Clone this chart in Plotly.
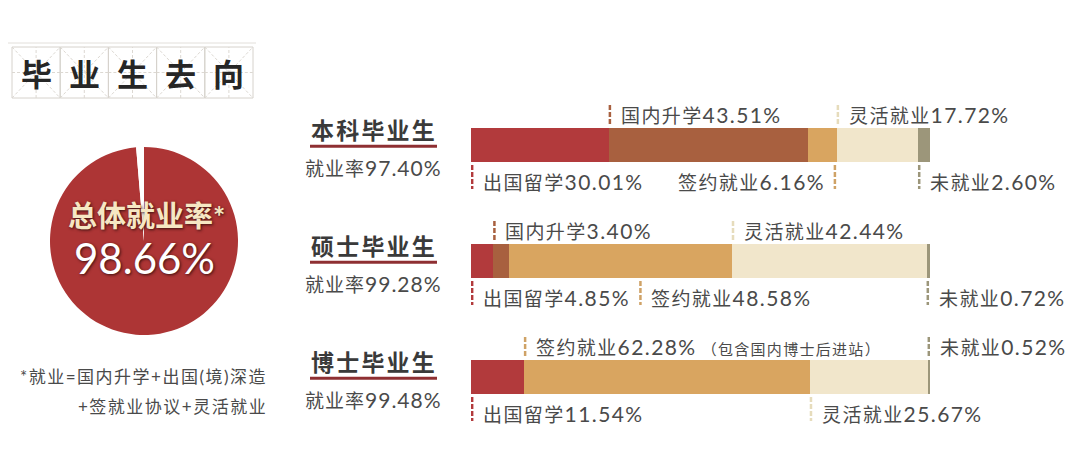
import plotly.graph_objects as go

# ---------------- data ----------------
groups = ["本科毕业生", "硕士毕业生", "博士毕业生"]
group_rates = [97.40, 99.28, 99.48]
rate_label = "就业率"
categories = ["出国留学", "国内升学", "签约就业", "灵活就业", "未就业"]
undergrad = [30.01, 43.51, 6.16, 17.72, 2.60]
master = [4.85, 3.40, 48.58, 42.44, 0.72]
phd = [11.54, 0.0, 62.28, 25.67, 0.52]
overall_rate = 98.66
overall_label = "总体就业率*"
title_chars = ["毕", "业", "生", "去", "向"]
footnote_lines = ["*就业=国内升学+出国(境)深造", "+签就业协议+灵活就业"]
phd_note = "（包含国内博士后进站）"

series = [undergrad, master, phd]

# ---------------- style ----------------
W, H = 1080, 469
colors = ["#b23a3c", "#a8603f", "#d9a560", "#f1e6cb", "#9c967a"]
tick_colors = ["#b23a3c", "#a8603f", "#cfa266", "#e6dcbc", "#9c967a"]
text_color = "#4a4a4a"
font_stack = "Lato, 'Noto Sans CJK SC', sans-serif"
BAR_X0, BAR_X1 = 471, 930
Y_TOP, Y_BOT = 87, 435


def mixed(cjk, num, cjk_size, num_size, spacing):
    return (f"<span style='font-size:{cjk_size}px;letter-spacing:{spacing}px'>{cjk}</span>"
            f"<span style='font-size:{num_size}px;letter-spacing:{spacing}px'>{num}</span>")


# label placement: (category index, side, anchor) ; anchor: 'start', 'end' or fraction of segment
label_layout = [
    [(0, "below", "start"), (1, "above", "start"), (2, "below", "end"),
     (3, "above", "start"), (4, "below", "start")],
    [(0, "below", "start"), (1, "above", "start"), (2, "below", 0.59),
     (3, "above", "start"), (4, "below", "start")],
    [(0, "below", "start"), (2, "above", "start"), (3, "below", "start"),
     (4, "above", "start")],
]

fig = go.Figure()

# stacked bars
for ci, cat in enumerate(categories):
    fig.add_trace(go.Bar(
        y=groups, x=[s[ci] for s in series], name=cat, orientation="h",
        marker=dict(color=colors[ci], line=dict(width=0)), width=0.293,
        hoverinfo="x+name", showlegend=False,
    ))

# pie
fig.add_trace(go.Pie(
    values=[overall_rate, round(100 - overall_rate, 2)],
    marker=dict(colors=["#ad3535", "#ffffff"], line=dict(width=0)),
    sort=False, direction="clockwise", rotation=0, textinfo="none",
    hoverinfo="none", showlegend=False,
    domain=dict(x=[50 / W, 238 / W], y=[1 - 336 / H, 1 - 146 / H]),
))

annotations = []
shapes = []

# segment labels and ticks
for gi, grp in enumerate(groups):
    vals = series[gi]
    starts = [sum(vals[:k]) for k in range(len(vals))]
    for ci, side, anchor in label_layout[gi]:
        s0 = starts[ci]
        s1 = s0 + vals[ci]
        if anchor == "start":
            tx = s0 + 0.25
        elif anchor == "end":
            tx = s1 - 0.4
        else:
            tx = s0 + anchor * vals[ci]
        label = mixed(categories[ci], f"{vals[ci]:.2f}%", 19, 21, 1.4)
        if gi == 2 and ci == 2:
            label += f"<span style='font-size:15px;letter-spacing:1.3px'> {phd_note}</span>"
        if side == "above":
            y0, y1, ys = gi - 0.345, gi - 0.165, 31
        else:
            y0, y1, ys = gi + 0.172, gi + 0.379, -36
        shapes.append(dict(type="line", xref="x", yref="y", x0=tx, x1=tx, y0=y0, y1=y1,
                           line=dict(color=tick_colors[ci], width=2.5, dash="5px,2px")))
        if anchor == "end":
            annotations.append(dict(x=tx, y=grp, xref="x", yref="y", text=label, showarrow=False,
                                    xanchor="right", yanchor="middle", xshift=-8, yshift=ys,
                                    font=dict(size=19, color=text_color)))
        else:
            annotations.append(dict(x=tx, y=grp, xref="x", yref="y", text=label, showarrow=False,
                                    xanchor="left", yanchor="middle", xshift=9, yshift=ys,
                                    font=dict(size=19, color=text_color)))

# left group titles
for gi, grp in enumerate(groups):
    annotations.append(dict(x=374 / W, y=grp, xref="paper", yref="y",
                            text=f"<span style='letter-spacing:2.2px'>{grp}</span>",
                            showarrow=False, xanchor="center", yanchor="middle", yshift=15,
                            font=dict(size=23, color="#3a3a3a", weight="bold")))
    annotations.append(dict(x=374 / W, y=grp, xref="paper", yref="y",
                            text=mixed(rate_label, f"{group_rates[gi]:.2f}%", 19, 21, 1.0),
                            showarrow=False, xanchor="center", yanchor="middle", yshift=-22,
                            font=dict(size=19, color=text_color)))
    shapes.append(dict(type="line", xref="paper", yref="y", x0=310 / W, x1=437 / W,
                       y0=gi + 0.01, y1=gi + 0.01, line=dict(color="#8e2f32", width=3)))

# pie texts
annotations.append(dict(x=146 / W, y=1 - 215 / H, xref="paper", yref="paper", text=overall_label,
                        showarrow=False, xanchor="center", yanchor="middle",
                        font=dict(size=29, color="#f6e7c3", weight="bold",
                                  shadow="1px 1px 3px #3a1010")))
annotations.append(dict(x=144 / W, y=1 - 258 / H, xref="paper", yref="paper",
                        text=f"{overall_rate:.2f}%", showarrow=False, xanchor="center",
                        yanchor="middle",
                        font=dict(size=42, color="#ffffff", shadow="1px 1px 3px #3a1010")))

# footnote
for li, line in enumerate(footnote_lines):
    annotations.append(dict(x=269 / W, y=1 - (376 + li * 30) / H, xref="paper", yref="paper",
                            text=f"<span style='letter-spacing:1.5px'>{line}</span>",
                            showarrow=False, xanchor="right", yanchor="middle",
                            font=dict(size=17, color=text_color)))

# title with grid boxes
BOX_W, BOX_TOP, BOX_BOT, BOX_X0 = 48.2, 47, 98, 12
grid = dict(color="#d6d2cc", width=1)
dash_grid = dict(color="#dcd8d2", width=1, dash="3px,2px")
px = lambda v: v / W
py = lambda v: 1 - v / H
shapes.append(dict(type="line", xref="paper", yref="paper", x0=px(8), x1=px(256),
                   y0=py(43), y1=py(43), line=dict(color="#e2dfda", width=1)))
for i, ch in enumerate(title_chars):
    x0 = BOX_X0 + i * BOX_W
    x1 = x0 + BOX_W
    xm = (x0 + x1) / 2
    ym = (BOX_TOP + BOX_BOT) / 2
    shapes.append(dict(type="rect", xref="paper", yref="paper", x0=px(x0), x1=px(x1),
                       y0=py(BOX_BOT), y1=py(BOX_TOP), line=grid, fillcolor="rgba(0,0,0,0)"))
    shapes.append(dict(type="line", xref="paper", yref="paper", x0=px(xm), x1=px(xm),
                       y0=py(BOX_BOT), y1=py(BOX_TOP), line=dash_grid))
    shapes.append(dict(type="line", xref="paper", yref="paper", x0=px(x0), x1=px(x1),
                       y0=py(ym), y1=py(ym), line=dash_grid))
    shapes.append(dict(type="line", xref="paper", yref="paper", x0=px(x0), x1=px(x1),
                       y0=py(BOX_BOT), y1=py(BOX_TOP), line=dash_grid))
    shapes.append(dict(type="line", xref="paper", yref="paper", x0=px(x0), x1=px(x1),
                       y0=py(BOX_TOP), y1=py(BOX_BOT), line=dash_grid))
    annotations.append(dict(x=px(xm), y=py(ym + 1), xref="paper", yref="paper", text=ch,
                            showarrow=False, xanchor="center", yanchor="middle",
                            font=dict(size=31, color="#262626", weight="bold")))

fig.update_layout(
    width=W, height=H, margin=dict(l=0, r=0, t=0, b=0),
    paper_bgcolor="#ffffff", plot_bgcolor="rgba(0,0,0,0)",
    barmode="stack", bargap=0,
    font=dict(family=font_stack, color=text_color),
    xaxis=dict(domain=[BAR_X0 / W, BAR_X1 / W], range=[0, 100], visible=False, fixedrange=True),
    yaxis=dict(domain=[1 - Y_BOT / H, 1 - Y_TOP / H], range=[2.5, -0.5], visible=False,
               fixedrange=True, type="category"),
    annotations=annotations, shapes=shapes,
)

fig.write_html("out.html")
